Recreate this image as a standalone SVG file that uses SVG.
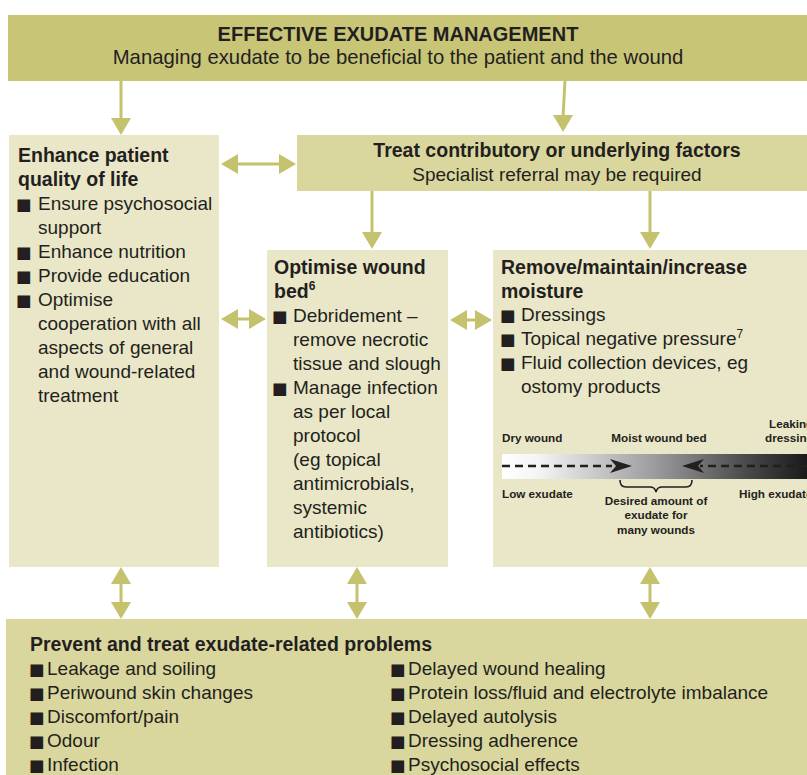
<svg xmlns="http://www.w3.org/2000/svg" width="807" height="775" viewBox="0 0 807 775">
<style>
.t{font-family:"Liberation Sans",Arial,Helvetica,sans-serif;fill:#231f20}
.r{font-size:19px}
.b{font-size:19.5px;font-weight:bold}
.h{font-size:20px;font-weight:bold}
.sub{font-size:20.3px}
.s{font-size:11.7px;font-weight:bold}
.bu{font-family:"DejaVu Sans",sans-serif;font-size:16.5px;fill:#231f20}
.dark{fill:#c8c577}
.mid{fill:#d9d79d}
.light{fill:#e9e7c7}
.arr{fill:#c5c26d}
.shaft{stroke:#c5c26d;stroke-width:3;fill:none}
</style>
<defs>
<linearGradient id="grad" x1="0" y1="0" x2="1" y2="0">
<stop offset="0" stop-color="#ffffff"/>
<stop offset="0.12" stop-color="#f4f4f4"/>
<stop offset="0.5" stop-color="#9c9c9e"/>
<stop offset="0.8" stop-color="#4a4a4a"/>
<stop offset="1" stop-color="#1a1a1a"/>
</linearGradient>
</defs>
<rect width="807" height="775" fill="#ffffff"/>

<g id="node-header">
<rect class="dark" x="8" y="15" width="799" height="66"/>
<text class="t h" x="398" y="41" text-anchor="middle">EFFECTIVE EXUDATE MANAGEMENT</text>
<text class="t sub" x="398" y="64" text-anchor="middle">Managing exudate to be beneficial to the patient and the wound</text>
</g>

<g id="node-quality">
<rect class="light" x="9" y="135" width="210" height="432"/>
<text class="t b" x="18" y="162">Enhance patient</text>
<text class="t b" x="18" y="186">quality of life</text>
<text class="bu" x="16" y="210">■</text><text class="t r" x="38" y="210">Ensure psychosocial</text>
<text class="t r" x="38" y="234">support</text>
<text class="bu" x="16" y="258">■</text><text class="t r" x="38" y="258">Enhance nutrition</text>
<text class="bu" x="16" y="282">■</text><text class="t r" x="38" y="282">Provide education</text>
<text class="bu" x="16" y="306">■</text><text class="t r" x="38" y="306">Optimise</text>
<text class="t r" x="38" y="330">cooperation with all</text>
<text class="t r" x="38" y="354">aspects of general</text>
<text class="t r" x="38" y="378">and wound-related</text>
<text class="t r" x="38" y="402">treatment</text>
</g>

<g id="node-treat">
<rect class="mid" x="297" y="135" width="510" height="56"/>
<text class="t b" x="557" y="157" text-anchor="middle">Treat contributory or underlying factors</text>
<text class="t r" x="557" y="181" text-anchor="middle">Specialist referral may be required</text>
</g>

<g id="node-woundbed">
<rect class="light" x="267" y="250" width="181" height="317"/>
<text class="t b" x="274" y="274">Optimise wound</text>
<text class="t b" x="274" y="298">bed<tspan font-size="12" dy="-8">6</tspan></text>
<text class="bu" x="272" y="322">■</text><text class="t r" x="293" y="322">Debridement –</text>
<text class="t r" x="293" y="346">remove necrotic</text>
<text class="t r" x="293" y="370">tissue and slough</text>
<text class="bu" x="272" y="394">■</text><text class="t r" x="293" y="394">Manage infection</text>
<text class="t r" x="293" y="418">as per local</text>
<text class="t r" x="293" y="442">protocol</text>
<text class="t r" x="293" y="466">(eg topical</text>
<text class="t r" x="293" y="490">antimicrobials,</text>
<text class="t r" x="293" y="514">systemic</text>
<text class="t r" x="293" y="538">antibiotics)</text>
</g>

<g id="node-moisture">
<rect class="light" x="493" y="250" width="314" height="317"/>
<text class="t b" x="501" y="274">Remove/maintain/increase</text>
<text class="t b" x="501" y="298">moisture</text>
<text class="bu" x="500" y="321">■</text><text class="t r" x="521" y="321">Dressings</text>
<text class="bu" x="500" y="345">■</text><text class="t r" x="521" y="345">Topical negative pressure<tspan font-size="12" dy="-7">7</tspan></text>
<text class="bu" x="500" y="369">■</text><text class="t r" x="521" y="369">Fluid collection devices, eg</text>
<text class="t r" x="521" y="393">ostomy products</text>
<rect x="502" y="454" width="305" height="25" fill="url(#grad)"/>
<line x1="502" y1="466" x2="612" y2="466" stroke="#231f20" stroke-width="2.5" stroke-dasharray="8,5"/>
<line x1="807" y1="466" x2="700" y2="466" stroke="#231f20" stroke-width="2.5" stroke-dasharray="8,5"/>
<path d="M632,466 L610,459 L616,466 L610,473 Z" fill="#231f20"/>
<path d="M682,466 L704,459 L698,466 L704,473 Z" fill="#231f20"/>
<path d="M620,480 Q620,487 626,487 L650,487 Q655,487 656,492 Q657,487 662,487 L686,487 Q692,487 692,480" fill="none" stroke="#231f20" stroke-width="1.6"/>
<text class="t s" x="502" y="442">Dry wound</text>
<text class="t s" x="659" y="442" text-anchor="middle">Moist wound bed</text>
<text class="t s" x="769" y="428">Leaking</text>
<text class="t s" x="765" y="442">dressing</text>
<text class="t s" x="502" y="498">Low exudate</text>
<text class="t s" x="739" y="498">High exudate</text>
<text class="t s" x="656" y="505" text-anchor="middle">Desired amount of</text>
<text class="t s" x="656" y="519" text-anchor="middle">exudate for</text>
<text class="t s" x="656" y="534" text-anchor="middle">many wounds</text>
</g>

<g id="node-problems">
<rect class="mid" x="6" y="619" width="801" height="156"/>
<text class="t b" x="30" y="651">Prevent and treat exudate-related problems</text>
<text class="bu" x="29" y="675">■</text><text class="t r" x="47" y="675">Leakage and soiling</text>
<text class="bu" x="29" y="699">■</text><text class="t r" x="47" y="699">Periwound skin changes</text>
<text class="bu" x="29" y="723">■</text><text class="t r" x="47" y="723">Discomfort/pain</text>
<text class="bu" x="29" y="747">■</text><text class="t r" x="47" y="747">Odour</text>
<text class="bu" x="29" y="771">■</text><text class="t r" x="47" y="771">Infection</text>
<text class="bu" x="390" y="675">■</text><text class="t r" x="408" y="675">Delayed wound healing</text>
<text class="bu" x="390" y="699">■</text><text class="t r" x="408" y="699">Protein loss/fluid and electrolyte imbalance</text>
<text class="bu" x="390" y="723">■</text><text class="t r" x="408" y="723">Delayed autolysis</text>
<text class="bu" x="390" y="747">■</text><text class="t r" x="408" y="747">Dressing adherence</text>
<text class="bu" x="390" y="771">■</text><text class="t r" x="408" y="771">Psychosocial effects</text>
</g>

<g id="connectors">
<line class="shaft" x1="121" y1="81" x2="121" y2="120"/>
<path class="arr" d="M111,118 L131,118 L121,135 Z"/>
<line class="shaft" x1="565" y1="81" x2="563" y2="117"/>
<path class="arr" d="M553,115 L573,115 L563,132 Z"/>
<line class="shaft" x1="372" y1="191" x2="372" y2="234"/>
<path class="arr" d="M362,232 L382,232 L372,249 Z"/>
<line class="shaft" x1="650" y1="191" x2="650" y2="234"/>
<path class="arr" d="M640,232 L660,232 L650,249 Z"/>
<line class="shaft" x1="236" y1="164" x2="281" y2="164"/>
<path class="arr" d="M221,164 L238,154 L238,174 Z"/>
<path class="arr" d="M296,164 L279,154 L279,174 Z"/>
<line class="shaft" x1="236" y1="319" x2="251" y2="319"/>
<path class="arr" d="M221,319 L238,309 L238,329 Z"/>
<path class="arr" d="M266,319 L249,309 L249,329 Z"/>
<line class="shaft" x1="465" y1="320" x2="477" y2="320"/>
<path class="arr" d="M450,320 L467,310 L467,330 Z"/>
<path class="arr" d="M492,320 L475,310 L475,330 Z"/>
<line class="shaft" x1="121" y1="582" x2="121" y2="605"/>
<path class="arr" d="M121,567 L111,584 L131,584 Z"/>
<path class="arr" d="M121,619 L111,602 L131,602 Z"/>
<line class="shaft" x1="357" y1="582" x2="357" y2="605"/>
<path class="arr" d="M357,567 L347,584 L367,584 Z"/>
<path class="arr" d="M357,619 L347,602 L367,602 Z"/>
<line class="shaft" x1="650" y1="582" x2="650" y2="605"/>
<path class="arr" d="M650,567 L640,584 L660,584 Z"/>
<path class="arr" d="M650,619 L640,602 L660,602 Z"/>
</g>
</svg>
